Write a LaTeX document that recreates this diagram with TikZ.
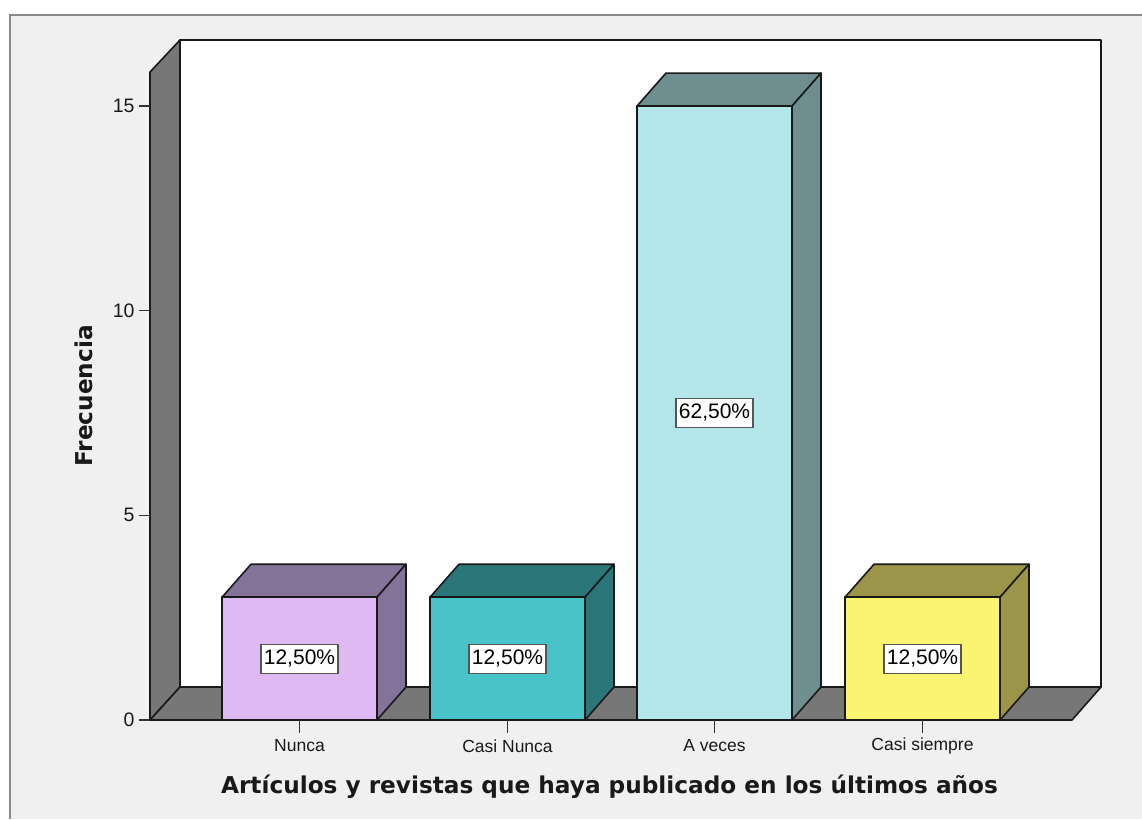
\documentclass[tikz,border=0pt]{standalone}
\usepackage{fontspec}
\setmainfont{Liberation Sans}
\newfontfamily\titlefont{DejaVu Sans}
\definecolor{bgc}{HTML}{F0F0F0}
\definecolor{framec}{HTML}{8A8A8A}
\definecolor{wallc}{HTML}{777777}
\definecolor{boxc}{HTML}{555555}
\definecolor{nfront}{HTML}{DFB9F2}
\definecolor{nside}{HTML}{857298}
\definecolor{cnfront}{HTML}{48C3C8}
\definecolor{cnside}{HTML}{2B7679}
\definecolor{avfront}{HTML}{B3E6E8}
\definecolor{avside}{HTML}{6F8E90}
\definecolor{csfront}{HTML}{FAF470}
\definecolor{csside}{HTML}{9A9548}
\tikzset{
  edge/.style={draw=black!90, line width=1.6pt, line join=round},
  wall/.style={edge, fill=wallc},
  pct/.style={draw=boxc, fill=white, line width=1.3pt, inner xsep=3pt, inner ysep=6pt, font=\fontsize{21}{24}\selectfont},
  catlabel/.style={font=\fontsize{17.5}{20}\selectfont, text=black!90},
  ticklabel/.style={font=\fontsize{19.5}{22}\selectfont, text=black!90, anchor=east},
  tickmark/.style={line width=1.4pt, draw=black!80},
  axtitle/.style={font=\titlefont\bfseries\fontsize{23.2}{26}\selectfont, text=black!90}
}
\newcommand\drawbar[4]{%
  \pgfmathsetmacro\xa{#1}\pgfmathsetmacro\xb{#1+155}\pgfmathsetmacro\yt{720-#2*40.93}%
  \draw[edge, fill=#4] (\xa,\yt) -- (\xa+29,\yt-33) -- (\xb+29,\yt-33) -- (\xb,\yt) -- cycle;
  \draw[edge, fill=#4] (\xb,\yt) -- (\xb+29,\yt-33) -- (\xb+29,687) -- (\xb,720) -- cycle;
  \draw[edge, fill=#3] (\xa,\yt) rectangle (\xb,720);
}
\begin{document}
\begin{tikzpicture}[x=1pt,y=-1pt]
\useasboundingbox (0,0) rectangle (1142,819);
\fill[white] (0,0) rectangle (1142,819);
\fill[bgc] (10,15) rectangle (1142,819);
\draw[framec, line width=2pt] (1142,15) -- (10,15) -- (10,819);
% walls and floor
\draw[edge, fill=white] (180,40) rectangle (1101,687);
\draw[wall] (150,72) -- (180,40) -- (180,687) -- (150,720) -- cycle;
\draw[wall] (150,720) -- (180,687) -- (1101,687) -- (1072,720) -- cycle;
% bars
\drawbar{222}{3}{nfront}{nside}
\drawbar{430}{3}{cnfront}{cnside}
\drawbar{637}{15}{avfront}{avside}
\drawbar{845}{3}{csfront}{csside}
% y axis ticks
\foreach \v/\nm in {0/t0,5/t5,10/t10,15/t15}{
  \pgfmathsetmacro\yy{720-\v*40.93}
  \draw[tickmark] (139,\yy) -- (150,\yy);
  \node[ticklabel] (\nm) at (138,\yy) {\v};
}
% category ticks and labels
\foreach \c/\nm/\txt in {299.5/cat1/Nunca,507.5/cat2/Casi Nunca,714.5/cat3/A veces,922.5/cat4/Casi siempre}{
  \draw[tickmark] (\c,720) -- (\c,733);
  \node[catlabel] (\nm) at (\c,746) {\txt};
}
% value labels
\node[pct] (p1) at (299.5,659) {12,50\%};
\node[pct] (p2) at (507.5,659) {12,50\%};
\node[pct] (p3) at (714.5,413) {62,50\%};
\node[pct] (p4) at (922.5,659) {12,50\%};
% axis titles
\node[axtitle] (xt) at (609.5,787) {Artículos y revistas que haya publicado en los últimos años};
\node[axtitle, rotate=90] (yt) at (84,396) {Frecuencia};
\end{tikzpicture}
\end{document}
